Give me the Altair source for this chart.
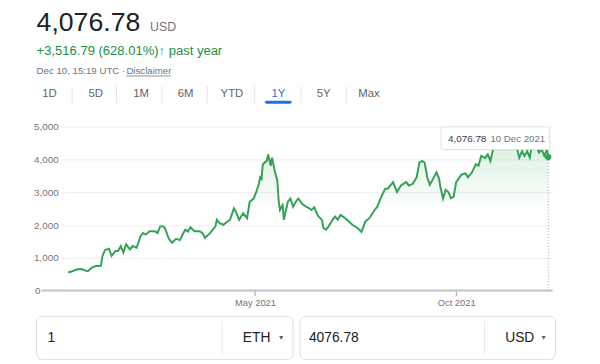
import altair as alt
import pandas as pd

# ---------------- data ----------------
dates = [
    "2020-12-10", "2020-12-13", "2020-12-17", "2020-12-20", "2020-12-22", "2020-12-23",
    "2020-12-25", "2020-12-28", "2020-12-31",
    "2021-01-02", "2021-01-04", "2021-01-05", "2021-01-07", "2021-01-10", "2021-01-12",
    "2021-01-15", "2021-01-17", "2021-01-19", "2021-01-21", "2021-01-23", "2021-01-26",
    "2021-01-28", "2021-01-31",
    "2021-02-01", "2021-02-03", "2021-02-05", "2021-02-07", "2021-02-10", "2021-02-14",
    "2021-02-16", "2021-02-18", "2021-02-20", "2021-02-21", "2021-02-22", "2021-02-24",
    "2021-02-25", "2021-02-27",
    "2021-03-02", "2021-03-05", "2021-03-07", "2021-03-09", "2021-03-11", "2021-03-13",
    "2021-03-16", "2021-03-20", "2021-03-22", "2021-03-24", "2021-03-28",
    "2021-04-01", "2021-04-02", "2021-04-04", "2021-04-07", "2021-04-10", "2021-04-12",
    "2021-04-15", "2021-04-17", "2021-04-19", "2021-04-22", "2021-04-25", "2021-04-27",
    "2021-04-30",
    "2021-05-02", "2021-05-04", "2021-05-05", "2021-05-06", "2021-05-07", "2021-05-10",
    "2021-05-11", "2021-05-13", "2021-05-14", "2021-05-16", "2021-05-18", "2021-05-19",
    "2021-05-20", "2021-05-22", "2021-05-23", "2021-05-26", "2021-05-28", "2021-05-30",
    "2021-06-01", "2021-06-03", "2021-06-06", "2021-06-09", "2021-06-11", "2021-06-13",
    "2021-06-15", "2021-06-18", "2021-06-21", "2021-06-22", "2021-06-24", "2021-06-26",
    "2021-06-29",
    "2021-07-01", "2021-07-03", "2021-07-05", "2021-07-07", "2021-07-10", "2021-07-14",
    "2021-07-18", "2021-07-21", "2021-07-24", "2021-07-27", "2021-07-31",
    "2021-08-02", "2021-08-05", "2021-08-08", "2021-08-10", "2021-08-14", "2021-08-17",
    "2021-08-20", "2021-08-24", "2021-08-26", "2021-08-29",
    "2021-09-01", "2021-09-03", "2021-09-05", "2021-09-07", "2021-09-09", "2021-09-11",
    "2021-09-13", "2021-09-16", "2021-09-18", "2021-09-19", "2021-09-21", "2021-09-23",
    "2021-09-25", "2021-09-27", "2021-09-29",
    "2021-10-01", "2021-10-05", "2021-10-08", "2021-10-10", "2021-10-13", "2021-10-16",
    "2021-10-18", "2021-10-20", "2021-10-23", "2021-10-25", "2021-10-27", "2021-10-29",
    "2021-10-31",
    "2021-11-03", "2021-11-05", "2021-11-07", "2021-11-09", "2021-11-12", "2021-11-14",
    "2021-11-15", "2021-11-17", "2021-11-18", "2021-11-20", "2021-11-22", "2021-11-24",
    "2021-11-26", "2021-11-27", "2021-11-30",
    "2021-12-02", "2021-12-03", "2021-12-05", "2021-12-07", "2021-12-09", "2021-12-10",
]
prices = [
    550, 590, 650, 660, 630, 610,
    590, 700, 750,
    750, 760, 1050, 1240, 1280, 1060,
    1210, 1210, 1360, 1160, 1410, 1260,
    1360, 1310,
    1420, 1660, 1760, 1710, 1810, 1810,
    1760, 1960, 1960, 1940, 1860, 1640,
    1560, 1460,
    1580, 1540, 1710, 1860, 1800, 1930,
    1810, 1810, 1760, 1610, 1760,
    1960, 2160, 2060, 2010, 2110, 2160,
    2510, 2360, 2160, 2360, 2210, 2710,
    2810,
    3010, 3260, 3460, 3410, 3860, 3960,
    4160, 3810, 4060, 3660, 3360, 2760,
    2460, 2610, 2160, 2710, 2810, 2560,
    2710, 2810, 2640, 2560, 2520, 2460,
    2540, 2280, 2150, 1910, 1860, 1960,
    2160,
    2260, 2160, 2310, 2260, 2160, 2010,
    1910, 1790, 2110, 2210, 2460,
    2560, 2860, 3110, 3110, 3310, 3010,
    3210, 3310, 3210, 3260,
    3460, 3910, 3960, 3910, 3460, 3230,
    3380, 3610, 3420, 3160, 2810, 3080,
    3010, 2820, 2860,
    3310, 3540, 3580, 3460, 3610, 3860,
    3810, 4110, 4050, 4160, 3960, 4310,
    4400,
    4600, 4500, 4650, 4800, 4700, 4600,
    4550, 4210, 4060, 4260, 4110, 4260,
    4060, 4310, 4600,
    4310, 4210, 4310, 4110, 4310, 4076.78,
]
y_ticks = [0, 1000, 2000, 3000, 4000, 5000]
price_text = "4,076.78"
currency = "USD"
change_text = "+3,516.79 (628.01%)\u2191 past year"
stamp_text = "Dec 10, 15:19 UTC \u00b7"
disclaimer = "Disclaimer"
tabs = ["1D", "5D", "1M", "6M", "YTD", "1Y", "5Y", "Max"]
active_tab = "1Y"
tip_date = "10 Dec 2021"
amount_left = "1"
unit_left = "ETH"
amount_right = "4076.78"
unit_right = "USD"

# ---------------- layout / style ----------------
FONT = "Liberation Sans"
GREEN_LINE = "#34a058"
GREEN_TEXT = "#1e8e3e"
DARK = "#202124"
GRAY = "#70757a"
tab_px = [-12, 35, 81, 126, 173, 220, 266, 312]
sep_px = [11, 56, 102, 148, 196, 243, 289]

df = pd.DataFrame({"date": dates, "price": prices})
last = pd.DataFrame({"date": [dates[-1]], "price": [prices[-1]], "base": [0]})
zero_df = pd.DataFrame({"price": [y_ticks[0]], "t": [str(y_ticks[0])]})

x_scale = alt.Scale(
    type="utc",
    domain=[alt.DateTime(year=2020, month=12, date=4, hours=18, utc=True),
            alt.DateTime(year=2021, month=12, date=13, hours=6, utc=True)],
)
y_scale = alt.Scale(domain=[0, 5000], nice=False)

x_enc = alt.X(
    "date:T", scale=x_scale,
    axis=alt.Axis(
        values=[alt.DateTime(year=2021, month=5, date=1, utc=True),
                alt.DateTime(year=2021, month=10, date=1, utc=True)],
        format="%b %Y", title=None, grid=False, domain=False,
        tickSize=5, tickColor="#9e9e9e", labelPadding=2,
        labelFontSize=9.5, labelColor=GRAY, labelFont=FONT,
    ),
)
y_enc = alt.Y(
    "price:Q", scale=y_scale,
    axis=alt.Axis(
        values=y_ticks, format=",d", labelExpr="datum.value == 0 ? '' : datum.label",
        title=None, grid=True, gridColor="#efefef", domain=False, ticks=False,
        labelPadding=3, labelFontSize=10, labelColor=GRAY, labelFont=FONT,
    ),
)

layers = []

area = alt.Chart(df).mark_area(
    color=alt.Gradient(
        gradient="linear",
        stops=[alt.GradientStop(color="rgba(52,168,83,0.2)", offset=0),
               alt.GradientStop(color="rgba(52,168,83,0)", offset=0.5)],
        x1=1, x2=1, y1=0, y2=1,
    )
).encode(x=x_enc, y=y_enc)
layers.append(area)

baseline = alt.Chart(zero_df).mark_rule(color="#c4c4c4", strokeWidth=2).encode(
    y=y_enc, x=alt.value(-20), x2=alt.value(498))
layers.append(baseline)

zero_lbl = alt.Chart(zero_df).mark_text(
    align="right", baseline="middle", font=FONT, fontSize=10, color=GRAY).encode(
    y=y_enc, x=alt.value(-21), text="t:N")
layers.append(zero_lbl)

line = alt.Chart(df).mark_line(color=GREEN_LINE, strokeWidth=2).encode(x=x_enc, y=y_enc)
layers.append(line)

vrule = alt.Chart(last).mark_rule(color="#9aa0a6", strokeDash=[1, 2], strokeWidth=1).encode(
    x=x_enc, y=y_enc, y2="base:Q")
layers.append(vrule)

dot = alt.Chart(last).mark_circle(color=GREEN_LINE, size=40, opacity=1).encode(x=x_enc, y=y_enc)
layers.append(dot)


def rect(x, x2, y, y2, fill="white", stroke=None, radius=0, opacity=1.0, sw=1):
    kw = dict(fill=fill, cornerRadius=radius, opacity=opacity)
    if stroke:
        kw.update(stroke=stroke, strokeWidth=sw)
    return alt.Chart(pd.DataFrame({"k": [0]})).mark_rect(**kw).encode(
        x=alt.value(x), x2=alt.value(x2), y=alt.value(y), y2=alt.value(y2))


def text(t, x, y, size, color, align="left", baseline="alphabetic", weight="normal"):
    return alt.Chart(pd.DataFrame({"t": [t]})).mark_text(
        align=align, baseline=baseline, font=FONT, fontSize=size, color=color,
        fontWeight=weight).encode(x=alt.value(x), y=alt.value(y), text="t:N")


def hline(x, x2, y, color, width=1, cap="butt"):
    return alt.Chart(pd.DataFrame({"k": [0]})).mark_rule(
        color=color, strokeWidth=width, strokeCap=cap).encode(
        x=alt.value(x), x2=alt.value(x2), y=alt.value(y))


def vline(x, y, y2, color, width=1):
    return alt.Chart(pd.DataFrame({"k": [0]})).mark_rule(
        color=color, strokeWidth=width).encode(
        x=alt.value(x), y=alt.value(y), y2=alt.value(y2))


# tooltip box
layers.append(rect(386, 496, 1, 24, fill="#000000", opacity=0.06, radius=2))
layers.append(rect(385, 495, 0, 23, fill="white", stroke="#e2e2e2", radius=2))
layers.append(text(f"{prices[-1]:,.2f}", 392, 12, 10, "#3c4043", baseline="middle"))
layers.append(text(tip_date, 435, 12, 9.8, GRAY, baseline="middle"))

# header
layers.append(text(price_text, -25, -105.5, 27, DARK, baseline="middle"))
layers.append(text(currency, 90, -97, 12.5, GRAY))
layers.append(text(change_text, -25, -72.5, 13.2, GREEN_TEXT))
layers.append(text(stamp_text, -25, -53.5, 9.8, GRAY))
layers.append(text(disclaimer, 66, -53.5, 9.8, GRAY))
layers.append(hline(66, 111, -51.5, GRAY, 0.8))

# tabs
for sx in sep_px:
    layers.append(vline(sx, -41, -24, "#e6e6e6"))
for t, tx in zip(tabs, tab_px):
    layers.append(text(t, tx, -33, 11.5, "#1a73e8" if t == active_tab else "#5f6368",
                       align="center", baseline="middle"))
layers.append(hline(208, 232, -25, "#1a73e8", 3, "round"))

# converter boxes
layers.append(rect(-25, 235, 192, 236, fill="white", stroke="#dadce0", radius=6))
layers.append(rect(242, 501, 192, 236, fill="white", stroke="#dadce0", radius=6))
layers.append(vline(163, 197, 231, "#e8e8e8"))
layers.append(vline(429, 197, 231, "#e8e8e8"))
layers.append(text(amount_left, -14, 214, 14, DARK, baseline="middle"))
layers.append(text(unit_left, 184, 214, 14, DARK, baseline="middle"))
layers.append(text(amount_right, 251, 214, 14, DARK, baseline="middle"))
layers.append(text(unit_right, 450, 214, 14, DARK, baseline="middle"))
for cx in [223, 489]:
    layers.append(alt.Chart(pd.DataFrame({"k": [0]})).mark_point(
        shape="triangle-down", filled=True, color="#5f6368", size=18, opacity=1).encode(
        x=alt.value(cx), y=alt.value(214)))

chart = alt.layer(*layers).properties(
    width=498, height=166,
    padding={"left": 54, "top": 118, "right": 40, "bottom": 72},
    autosize=alt.AutoSizeParams(type="none"),
    background="white",
).configure_view(stroke=None)

chart.save("out.html", embed_options={"renderer": "svg", "actions": False})
